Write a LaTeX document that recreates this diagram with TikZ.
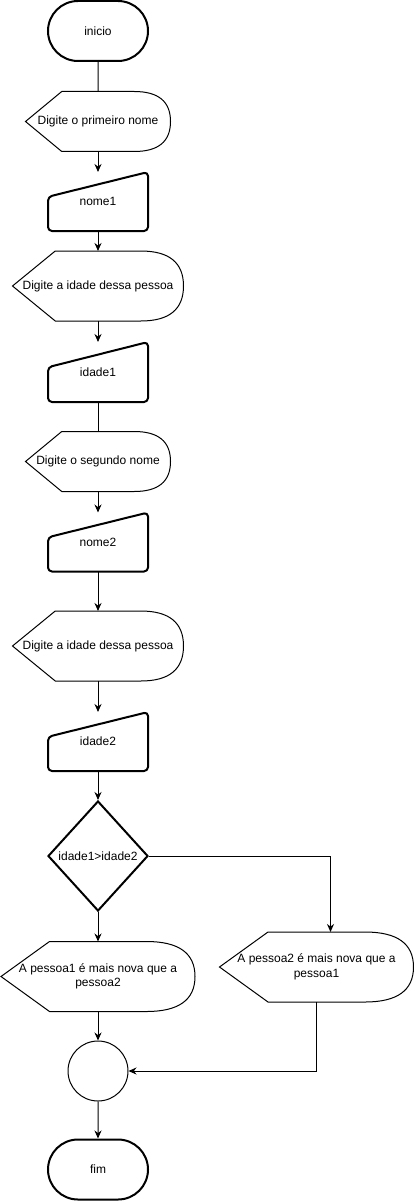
\documentclass[tikz,border=0pt]{standalone}
\usepackage{fontspec}
\setmainfont{Liberation Sans}
\usetikzlibrary{shapes.geometric, shapes.misc, positioning, calc, arrows.meta}

% outline of a display (output) box around a named node
\newcommand{\drawdisplay}[1]{%
	\draw[outline] (#1.west) -- ($(#1.north west)!0.25!(#1.north east)$)
	-- ($(#1.north west)!0.75!(#1.north east)$)
	.. controls ($(#1.north west)!0.9167!(#1.north east)$) and ($(#1.north east)!0.3333!(#1.east)$) .. (#1.east)
	.. controls ($(#1.south east)!0.3333!(#1.east)$) and ($(#1.south west)!0.9167!(#1.south east)$) .. ($(#1.south west)!0.75!(#1.south east)$)
	-- ($(#1.south west)!0.25!(#1.south east)$) -- cycle;}

% outline of a manual input box around a named node
\newcommand{\drawinput}[1]{%
	\draw[outline thick, rounded corners=4pt] (#1.south) -- (#1.south west)
	-- ($(#1.north west)!0.42!(#1.south west)$) -- (#1.north east)
	-- (#1.south east) -- cycle;}

\begin{document}
\begin{tikzpicture}[
	x=1pt, y=-1pt,
	>={Stealth[length=8pt, width=7pt]},
	every node/.style={font=\fontsize{12}{14.5}\selectfont},
	outline/.style={draw=black, line width=1pt},
	outline thick/.style={draw=black, line width=2pt, line join=round},
	box/.style 2 args={minimum width=#1, minimum height=#2, inner sep=0pt, outer sep=0pt},
	terminal/.style={rounded rectangle, draw=black, line width=2pt, minimum width=100pt, minimum height=60pt, inner sep=0pt},
	decision/.style={diamond, draw=black, line width=2pt, aspect=0.91, minimum width=100pt, minimum height=110pt, inner sep=0pt},
	junction/.style={circle, draw=black, line width=1pt, minimum size=60pt, inner sep=0pt},
	link/.style={draw=black, line width=1pt},
	flow/.style={link, ->}
	]
	
	\useasboundingbox (0,0) rectangle (414,1201);
	
	% --- MAIN COLUMN ---
	\node[terminal] (inicio) at (98,31) {inicio};
	\node[box={145pt}{60pt}] (d1) at (98,121.5) {Digite o primeiro nome};
	\node[box={100pt}{59pt}] (nome1) at (98,201.5) {nome1};
	\node[box={171pt}{70pt}] (d2) at (98,286) {Digite a idade dessa pessoa};
	\node[box={100pt}{60pt}] (idade1) at (98,372) {idade1};
	\node[box={145pt}{60pt}] (d3) at (98,461.5) {Digite o segundo nome};
	\node[box={100pt}{59pt}] (nome2) at (98,542) {nome2};
	\node[box={171pt}{70pt}] (d4) at (98,646) {Digite a idade dessa pessoa};
	\node[box={100pt}{59pt}] (idade2) at (98,741.5) {idade2};
	\node[decision] (cmp) at (98,856) {idade1>idade2};
	
	% --- BRANCHES ---
	\node[box={194pt}{70pt}, align=center] (p1) at (98,976.5) {A pessoa1 é mais nova que a\\pessoa2};
	\node[box={194pt}{70pt}, align=center] (p2) at (316.5,967) {A pessoa2 é mais nova que a\\pessoa1};
	\node[junction] (join) at (98,1071) {};
	\node[terminal] (fim) at (98,1169.5) {fim};
	
	% Shapes
	\drawdisplay{d1}
	\drawdisplay{d2}
	\drawdisplay{d3}
	\drawdisplay{d4}
	\drawdisplay{p1}
	\drawdisplay{p2}
	\drawinput{nome1}
	\drawinput{idade1}
	\drawinput{nome2}
	\drawinput{idade2}
	
	% Connectors
	\draw[link] (inicio) -- (d1);
	\draw[flow] (d1) -- (nome1);
	\draw[flow] (nome1) -- (d2);
	\draw[flow] (d2) -- (idade1);
	\draw[link] (idade1) -- (d3);
	\draw[flow] (d3) -- (nome2);
	\draw[flow] (nome2) -- (d4);
	\draw[flow] (d4) -- (idade2);
	\draw[flow] (idade2) -- (cmp);
	\draw[flow] (cmp) -- (p1);
	\draw[flow] (cmp.east) -| ([xshift=14pt]p2.north);
	\draw[flow] (p1) -- (join);
	\draw[flow] (p2.south) |- (join.east);
	\draw[flow] (join) -- (fim);
	
\end{tikzpicture}
\end{document}
